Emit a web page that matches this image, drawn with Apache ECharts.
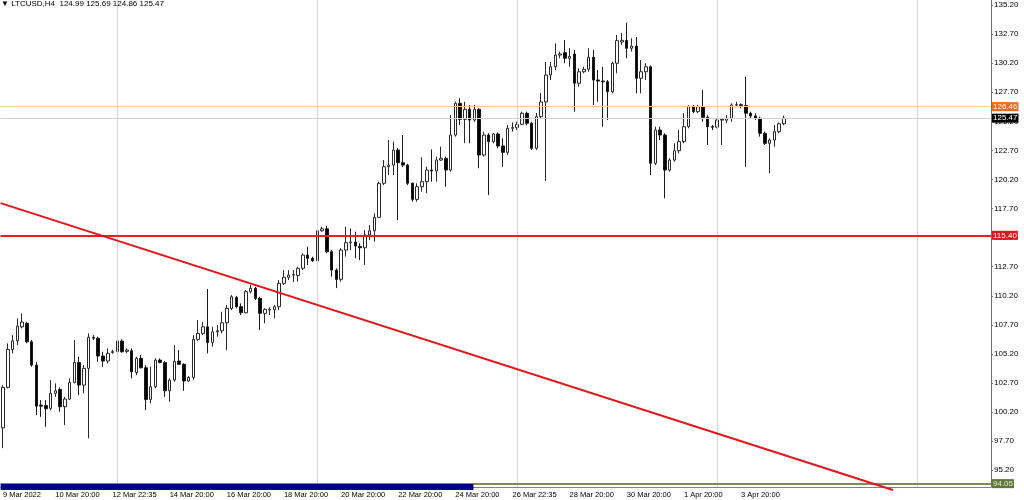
<!DOCTYPE html>
<html>
<head>
<meta charset="utf-8">
<script src="https://cdn.jsdelivr.net/npm/echarts@6/dist/echarts.min.js"></script>
<style>
  html, body { margin: 0; padding: 0; background: #ffffff; }
  #chart { width: 1024px; height: 500px; }
</style>
</head>
<body>
<div id="chart"></div>
<script>
// ---- data ----
const symbolName = 'LTCUSD,H4';
const slotCount = 208;
const categories = Array.from({ length: slotCount }, (_, i) => String(i));

// [open, close, low, high]
const candles = [
  [98.85,102.32,97.10,102.52],[102.32,105.59,102.24,106.11],[105.59,106.33,105.25,106.82],[106.33,107.59,105.96,108.26],
  [107.53,107.94,107.40,108.69],[107.83,106.24,106.11,107.96],[106.24,104.24,104.10,106.39],[104.24,100.71,99.94,104.52],
  [100.80,100.71,99.79,101.23],[100.77,100.48,98.93,101.23],[100.52,101.81,100.37,102.95],[101.81,102.03,101.51,102.67],
  [102.15,100.66,100.23,102.32],[100.66,101.32,99.08,101.51],[101.32,102.75,101.23,103.10],[102.75,104.47,102.67,106.39],
  [104.47,102.52,101.66,104.96],[102.52,103.96,101.81,104.24],[103.96,106.63,97.94,106.97],[106.62,106.55,106.39,106.82],
  [106.55,105.02,104.52,106.68],[105.02,104.59,104.10,105.39],[104.59,105.25,104.39,105.68],[105.32,105.40,105.22,105.55],
  [105.39,106.31,105.25,106.74],[106.31,105.39,105.30,106.45],[105.42,105.53,105.25,105.68],[105.47,103.67,103.10,105.68],
  [103.60,104.82,103.38,104.96],[104.82,104.01,103.96,105.11],[104.01,101.29,100.37,104.24],[101.29,102.38,100.95,104.10],
  [102.38,104.67,102.24,104.82],[104.67,104.47,104.39,104.82],[104.47,102.03,101.51,104.59],[102.03,102.95,101.09,103.10],
  [102.95,104.56,102.81,105.96],[104.59,104.31,104.24,105.53],[104.31,102.87,102.03,104.40],[102.87,103.18,102.81,103.30],
  [103.18,106.45,102.95,106.82],[106.45,106.97,106.33,108.11],[106.97,107.53,106.82,107.96],[107.53,106.19,105.25,110.78],
  [106.19,107.11,105.82,107.53],[107.11,107.19,106.68,107.68],[107.19,107.88,106.97,108.83],[107.88,109.12,105.53,109.40],
  [109.12,110.12,108.97,110.26],[110.05,109.26,109.12,110.20],[109.26,108.74,108.54,109.55],[108.74,110.55,108.69,110.69],
  [110.55,110.84,110.41,111.12],[110.84,109.98,109.83,110.98],[109.98,108.69,107.25,110.12],[108.69,109.03,107.83,109.12],
  [108.97,109.05,108.54,109.20],[109.00,109.26,108.26,109.40],[109.26,111.27,108.97,111.55],[111.27,111.79,111.12,112.41],
  [111.79,111.98,111.55,112.41],[111.98,112.02,111.38,112.41],[111.95,112.56,111.41,112.70],[112.56,113.70,112.41,113.85],
  [113.70,113.42,112.84,114.42],[113.42,113.21,113.13,113.56],[113.21,115.79,113.13,115.91],[115.79,115.96,115.71,116.14],
  [115.96,113.99,113.85,116.20],[113.99,112.41,111.84,114.13],[112.41,111.61,110.86,112.56],[111.61,114.13,111.41,114.28],
  [114.13,114.76,113.56,116.14],[114.76,114.82,114.13,116.00],[114.82,114.48,113.42,115.71],[114.45,114.33,113.27,114.71],
  [114.33,115.42,112.84,115.85],[115.42,115.79,114.99,116.28],[115.79,116.94,114.85,117.29],[116.94,119.87,116.88,120.01],
  [119.87,121.30,119.72,121.87],[121.30,121.44,120.58,123.59],[121.44,122.73,120.58,123.45],[122.73,121.64,116.71,122.90],
  [121.64,121.44,121.27,124.02],[121.44,119.87,119.72,121.55],[119.87,118.49,118.29,119.95],[118.49,119.58,118.29,119.87],
  [119.58,120.01,119.15,122.10],[120.01,121.01,119.01,121.30],[121.01,120.93,120.01,122.79],[120.93,121.87,120.01,122.16],
  [121.87,122.02,121.80,123.02],[122.02,121.01,119.58,122.16],[121.01,124.02,120.87,125.74],[124.02,126.75,123.88,126.88],
  [126.75,125.37,124.88,127.18],[125.37,126.23,123.33,126.88],[126.23,125.31,123.31,126.60],[125.31,126.23,125.16,126.60],
  [126.23,122.30,121.16,126.32],[122.30,124.02,122.16,124.31],[124.02,123.45,118.86,124.17],[123.45,124.11,123.31,124.20],
  [124.11,123.08,122.88,124.25],[123.08,122.53,121.30,123.74],[122.53,124.60,122.30,124.88],[124.60,124.66,124.31,125.10],
  [124.66,124.94,124.45,125.16],[124.94,125.89,124.88,126.03],[125.89,125.03,124.85,126.03],[125.03,122.88,122.73,125.16],
  [122.88,125.60,122.73,125.91],[125.60,126.86,125.48,127.63],[126.86,129.18,120.07,130.30],[129.18,129.89,128.75,130.32],
  [129.89,130.90,129.61,131.91],[130.90,130.99,130.62,131.19],[131.10,130.62,130.19,132.19],[130.62,130.78,129.89,131.48],
  [130.99,128.47,126.03,131.33],[128.47,129.46,128.18,129.76],[129.46,129.67,129.33,129.89],[129.67,130.70,129.46,131.48],
  [130.70,128.75,126.60,131.33],[128.75,128.66,126.88,129.61],[128.66,128.60,124.74,129.89],[128.60,127.74,125.31,128.75],
  [127.74,130.19,127.61,130.32],[130.19,132.13,129.33,132.62],[132.02,132.16,131.76,132.77],[132.16,131.48,130.62,133.68],
  [131.48,131.67,131.19,132.34],[131.67,128.90,127.61,132.45],[128.90,129.46,127.61,130.47],[129.46,129.89,128.75,130.19],
  [129.89,121.59,120.58,130.00],[121.59,124.45,121.44,124.74],[124.45,124.02,123.59,124.74],[124.02,121.01,118.58,124.17],
  [121.01,121.87,120.87,122.02],[121.87,122.67,121.73,123.31],[122.67,123.45,122.45,124.45],[123.45,124.74,123.31,125.89],
  [124.74,126.46,124.60,126.60],[126.46,126.03,125.89,126.60],[126.03,126.46,125.89,126.60],[126.46,125.54,125.16,127.89],
  [125.54,124.74,123.16,125.74],[124.74,124.70,124.45,124.88],[124.70,125.31,124.60,125.46],[125.31,125.36,123.16,125.46],
  [125.30,125.46,125.03,125.74],[125.46,126.60,125.16,126.75],[126.60,126.63,126.46,126.88],[126.63,126.55,126.32,126.75],
  [126.55,125.89,121.30,129.03],[125.89,125.66,125.46,126.03],[125.66,125.46,125.31,125.89],[125.46,124.17,123.88,125.60],
  [124.17,123.31,123.16,124.31],[123.31,123.59,120.73,123.74],[123.59,124.31,123.02,124.88],[124.31,124.99,124.17,125.10],
  [124.99,125.47,124.86,125.69]
];

const xTickLabels = [
  [0,'9 Mar 2022'],[11,'10 Mar 20:00'],[23,'12 Mar 22:35'],[35,'14 Mar 20:00'],[47,'16 Mar 20:00'],
  [59,'18 Mar 20:00'],[71,'20 Mar 20:00'],[83,'22 Mar 20:00'],[95,'24 Mar 20:00'],[107,'26 Mar 22:35'],
  [119,'28 Mar 20:00'],[131,'30 Mar 20:00'],[143,'1 Apr 20:00'],[155,'3 Apr 20:00']
];
const yTicks = [95.20,97.70,100.20,102.70,105.20,107.70,110.20,112.70,115.20,117.70,120.20,122.70,125.20,127.70,130.20,132.70,135.20];
const yMin = 93.76;
const yMax = 135.63;

const askLevel = 126.46;
const bidLevel = 125.47;
const resistanceLevel = 115.40;
const supportLevel = 94.05;

const gridBars = [24, 66, 108, 150, 192];
const trendLine = [[-0.5, 118.17], [186.9, 93.50]];
const periodBar = [[-0.5, 93.76], [98.8, 93.76]];

// ---- chart ----
const labelMap = new Map(xTickLabels);
const last = candles[candles.length - 1];
const FONT = 'Liberation Sans';

const chart = echarts.init(document.getElementById('chart'), null, { renderer: 'canvas' });

function levelSeries(value, lineColor, lineWidth, boxColor, textColor, z) {
  return {
    type: 'line', data: [], z: z, silent: true,
    markLine: {
      symbol: 'none', silent: true, animation: false,
      data: [{
        yAxis: value,
        lineStyle: { color: lineColor, width: lineWidth, type: 'solid', opacity: 1 },
        label: {
          show: true, position: 'end', distance: 1,
          formatter: () => value.toFixed(2),
          backgroundColor: boxColor, color: textColor,
          fontSize: 8, fontFamily: FONT, padding: [1, 1, 0, 1]
        }
      }]
    }
  };
}

chart.setOption({
  animation: false,
  backgroundColor: '#ffffff',
  title: {
    text: '\u25BC ' + symbolName + '  ' + [last[0], last[3], last[2], last[1]].map(v => v.toFixed(2)).join(' '),
    left: 0, top: 0, padding: [0, 0, 0, 1],
    textStyle: { fontSize: 8, fontWeight: 'normal', color: '#000', fontFamily: FONT }
  },
  grid: { left: 0, right: 33, top: 0, bottom: 13, containLabel: false },
  xAxis: [
    {
      type: 'category', data: categories, boundaryGap: true,
      axisLine: { show: true, onZero: false, lineStyle: { color: '#808080', width: 1 } },
      axisTick: { show: false },
      splitLine: { show: false },
      axisLabel: {
        interval: (i) => labelMap.has(i),
        formatter: (v, i) => labelMap.get(Number(v)) || '',
        align: 'left', fontSize: 7.5, fontFamily: FONT, color: '#000', margin: 4
      }
    },
    {
      type: 'value', min: -0.5, max: slotCount - 0.5, show: false, position: 'top',
      axisLine: { show: false, onZero: false }, axisTick: { show: false },
      axisLabel: { show: false }, splitLine: { show: false }
    }
  ],
  yAxis: {
    type: 'value', position: 'right', min: yMin, max: yMax,
    splitLine: { show: false },
    axisLine: { show: true, onZero: false, lineStyle: { color: '#707070', width: 1 } },
    axisTick: { show: true, customValues: yTicks, length: 2, lineStyle: { color: '#707070' } },
    axisLabel: {
      customValues: yTicks, formatter: (v) => Number(v).toFixed(2),
      fontSize: 8, fontFamily: FONT, color: '#000', margin: 3
    }
  },
  series: [
    {
      type: 'line', data: [], z: 1, silent: true,
      markLine: {
        symbol: 'none', silent: true, animation: false,
        lineStyle: { color: '#d6d6d6', width: 1, type: 'solid' },
        label: { show: false },
        data: gridBars.map(b => ({ xAxis: categories[b] }))
      }
    },
    {
      type: 'candlestick', data: candles, z: 3,
      barWidth: 3,
      itemStyle: { color: '#ffffff', color0: '#000000', borderColor: '#2a2a2a', borderColor0: '#1a1a1a', borderWidth: 1 }
    },
    levelSeries(askLevel, '#f3cfa6', 1, '#f26a1b', '#ffffff', 4),
    levelSeries(bidLevel, '#d0d0d0', 1, '#000000', '#ffffff', 4),
    levelSeries(resistanceLevel, '#ee1c24', 2, '#e3151b', '#ffffff', 4),
    levelSeries(supportLevel, '#7d8a5c', 2, '#62783a', '#e4ebd2', 4),
    {
      type: 'line', xAxisIndex: 1, yAxisIndex: 0, data: trendLine, z: 6,
      symbol: 'none', clip: false, silent: true,
      lineStyle: { color: '#e3151b', width: 2 }
    },
    {
      type: 'line', xAxisIndex: 1, yAxisIndex: 0, data: periodBar, z: 7,
      symbol: 'none', clip: false, silent: true,
      lineStyle: { color: '#00008b', width: 6, cap: 'butt' }
    }
  ]
});
</script>
</body>
</html>
